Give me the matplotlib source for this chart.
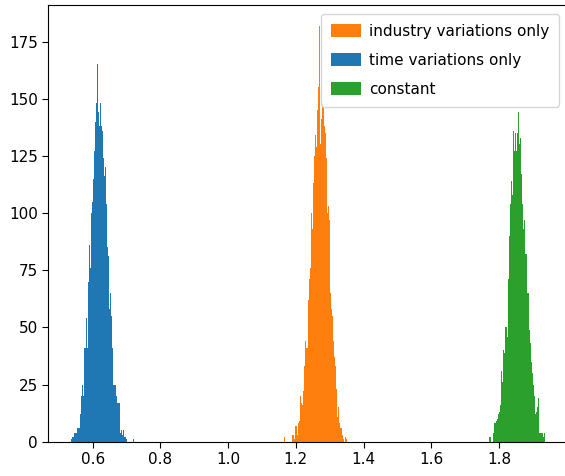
import numpy as np
import matplotlib
matplotlib.use("Agg")
import matplotlib.pyplot as plt

plt.rcParams['font.family'] = ['DejaVu Sans']
plt.rcParams['font.size'] = 11
plt.rcParams['xtick.major.size'] = 4
plt.rcParams['ytick.major.size'] = 4

# bin counts of the bootstrapped estimates, one list per specification
bin_width = 0.002953

time_start = 0.5359
time_counts = [1, 2, 2, 4, 4, 4, 6, 6, 6, 12, 20, 25, 20, 41, 41, 54, 41, 70, 86, 76,
               100, 105, 115, 127, 140, 148, 165, 144, 138, 148, 138, 136, 124, 116, 120,
               104, 85, 81, 58, 65, 55, 41, 25, 25, 25, 20, 17, 17, 17, 4, 5, 3, 5, 2, 2,
               1, 0, 0, 0, 0, 0, 0, 1]

industry_start = 1.1620
industry_counts = [0, 2, 0, 0, 0, 0, 0, 0, 0, 3, 3, 1, 7, 7, 3, 8, 9, 20, 17, 16, 22,
                   33, 44, 41, 41, 62, 71, 76, 100, 93, 113, 125, 134, 129, 145, 155, 182,
                   130, 141, 148, 146, 138, 135, 124, 100, 103, 97, 65, 58, 55, 44, 37, 33,
                   23, 11, 15, 8, 6, 6, 3, 1, 0, 2, 1]

constant_start = 1.7675
constant_counts = [0, 2, 2, 0, 0, 4, 8, 8, 9, 10, 12, 13, 16, 31, 26, 40, 39, 50, 50, 46,
                   71, 90, 104, 114, 108, 136, 127, 135, 127, 135, 144, 130, 133, 117, 104,
                   93, 97, 82, 82, 65, 65, 49, 43, 35, 30, 25, 20, 12, 13, 15, 19, 4, 4, 4,
                   4, 2, 4]

labels = ["time variations only", "industry variations only", "constant"]


def edges_for(start, counts):
    return start + bin_width * np.arange(len(counts) + 1)


fig = plt.figure(figsize=(5.65, 4.76), dpi=100)
ax = fig.add_axes([0.0855, 0.0721, 1.0053 - 0.0855, 0.9895 - 0.0721])

handles = []
for start, counts, col, lab in [(time_start, time_counts, 'C0', labels[0]),
                                (industry_start, industry_counts, 'C1', labels[1]),
                                (constant_start, constant_counts, 'C2', labels[2])]:
    e = edges_for(start, counts)
    _, _, patches = ax.hist(e[:-1], bins=e, weights=counts, color=col, label=lab)
    handles.append(patches)

ax.set_xlim(0.469, 2.004)
ax.set_ylim(0, 191)
ax.set_xticks([0.6, 0.8, 1.0, 1.2, 1.4, 1.6, 1.8])
ax.set_yticks([0, 25, 50, 75, 100, 125, 150, 175])

ax.legend([handles[1], handles[0], handles[2]], [labels[1], labels[0], labels[2]],
          loc='upper right', labelspacing=0.9, handlelength=1.95, handleheight=0.9,
          handletextpad=0.5, borderpad=0.65, borderaxespad=0.6)

fig.savefig("out.png", dpi=100)
